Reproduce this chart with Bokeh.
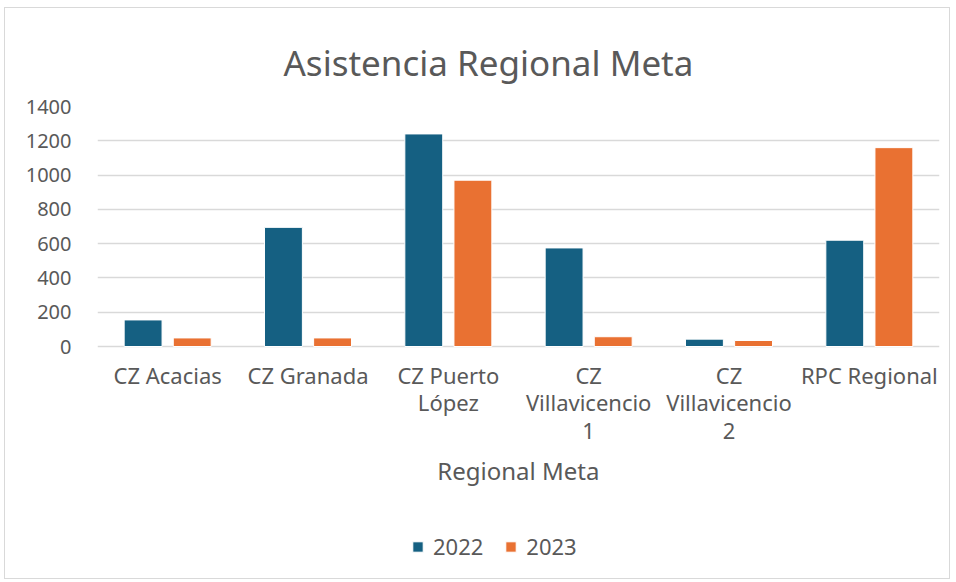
from bokeh.plotting import figure
from bokeh.models import ColumnDataSource, Legend, LegendItem, FactorRange
from bokeh.core.properties import value
from bokeh.transform import dodge
from bokeh.embed import file_html
from bokeh.resources import INLINE

categories = ["CZ Acacias", "CZ Granada", "CZ Puerto\nLópez", "CZ\nVillavicencio\n1", "CZ\nVillavicencio\n2", "RPC Regional"]
values_2022 = [155, 695, 1240, 575, 43, 620]
values_2023 = [50, 50, 970, 57, 35, 1160]
y_ticks = [0, 200, 400, 600, 800, 1000, 1200, 1400]
series_names = ["2022", "2023"]
x_title = "Regional Meta"
chart_title = "Asistencia Regional Meta"

FONT = "Noto Sans"
TXT = "#595959"
GRID = "#d9d9d9"
C22 = "#156082"
C23 = "#E97132"

# layout (pixels): bar area 240px tall for 0..1400, extra 220px below for labels/legend
PLOT_PX = 240
BELOW_PX = 220
Y_MAX = y_ticks[-1]
UPP = Y_MAX / PLOT_PX  # data units per pixel
y_start = -BELOW_PX * UPP

src = ColumnDataSource(dict(cat=categories, v22=values_2022, v23=values_2023,
                            lab_y=[-13 * UPP] * len(categories)))

p = figure(x_range=FactorRange(*categories), y_range=(y_start, Y_MAX),
           frame_width=842, frame_height=PLOT_PX + BELOW_PX,
           output_backend="svg", toolbar_location=None,
           min_border_left=92, min_border_right=10, min_border_top=98, min_border_bottom=12)
p.margin = (7, 0, 0, 4)

p.title.text = chart_title
p.title.align = "left"
p.title.text_font = FONT
p.title.text_font_size = "35px"
p.title.text_font_style = "normal"
p.title.text_color = TXT
p.title.standoff = 42
p.title.offset = 186

r22 = p.vbar(x=dodge("cat", -0.175, range=p.x_range), top="v22", width=0.27, source=src,
             fill_color=C22, line_color="white", line_width=1)
r23 = p.vbar(x=dodge("cat", 0.175, range=p.x_range), top="v23", width=0.27, source=src,
             fill_color=C23, line_color="white", line_width=1)

# category labels (multi-line) under the bars
p.text(x="cat", y="lab_y", text="cat", source=src,
       text_font=value(FONT), text_font_size="22px", text_color=TXT,
       text_align="center", text_baseline="top", text_line_height=0.93)

# axis title
p.text(x=[categories[2]], y=[-124 * UPP], text=[x_title], x_offset=[70],
       text_font=value(FONT), text_font_size="24px", text_color=TXT,
       text_align="center", text_baseline="middle")

p.outline_line_color = None
p.xgrid.grid_line_color = None
p.ygrid.grid_line_color = GRID
p.ygrid.grid_line_width = 1.5
p.yaxis.ticker = y_ticks
p.xaxis.visible = False

p.yaxis.axis_line_color = None
p.yaxis.major_tick_line_color = None
p.yaxis.minor_tick_line_color = None
p.yaxis.major_label_standoff = 20
p.yaxis.major_label_text_font = FONT
p.yaxis.major_label_text_font_size = "20px"
p.yaxis.major_label_text_color = TXT

legend = Legend(items=[LegendItem(label=series_names[0], renderers=[r22]),
                       LegendItem(label=series_names[1], renderers=[r23])],
                orientation="horizontal", location=(314, 5),
                label_text_font=FONT, label_text_font_size="22px", label_text_color=TXT,
                glyph_width=13, glyph_height=13, label_height=20, spacing=21, label_standoff=9,
                border_line_color=None, background_fill_alpha=0, margin=0, padding=0)
p.add_layout(legend, "center")

p.styles = {"border": "1px solid #d9d9d9"}

open("out.html", "w").write(file_html(p, INLINE))
